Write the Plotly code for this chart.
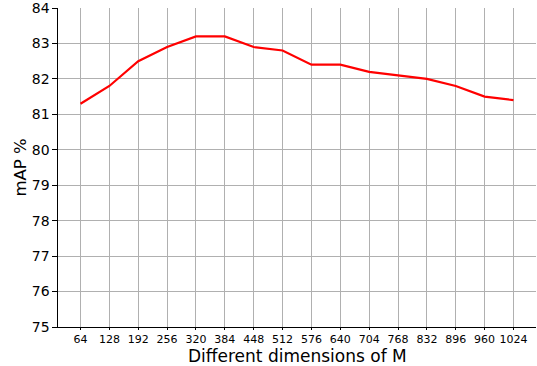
import plotly.graph_objects as go

dims = ["64", "128", "192", "256", "320", "384", "448", "512", "576", "640",
        "704", "768", "832", "896", "960", "1024"]
map_vals = [81.3, 81.8, 82.5, 82.9, 83.2, 83.2, 82.9, 82.8, 82.4, 82.4,
            82.2, 82.1, 82.0, 81.8, 81.5, 81.4]
y_ticks = [75, 76, 77, 78, 79, 80, 81, 82, 83, 84]
x_title = "Different dimensions of M"
y_title = "mAP %"

x_idx = list(range(len(dims)))

fig = go.Figure()
fig.add_trace(go.Scatter(x=x_idx, y=map_vals, mode="lines",
                         line=dict(color="#ff0000", width=2.2)))

font = "DejaVu Sans, sans-serif"
fig.update_layout(
    width=537, height=366,
    margin=dict(l=58, r=1, t=8, b=39, autoexpand=False),
    plot_bgcolor="white", paper_bgcolor="white",
    showlegend=False,
    font=dict(family=font, color="black"),
    xaxis=dict(
        range=[-0.78, 15.78], automargin=False,
        tickmode="array", tickvals=x_idx, ticktext=dims,
        tickfont=dict(size=11, family=font),
        showgrid=True, gridcolor="#b0b0b0", gridwidth=1,
        showline=True, linecolor="black", linewidth=1.2,
        ticks="outside", ticklen=2, tickcolor="black", tickwidth=1,
        zeroline=False, ticklabeloverflow="allow",
    ),
    yaxis=dict(
        range=[75, 84], automargin=False,
        tickmode="array", tickvals=y_ticks,
        tickfont=dict(size=14, family=font),
        showgrid=True, gridcolor="#b0b0b0", gridwidth=1,
        showline=True, linecolor="black", linewidth=1.2,
        ticks="outside", ticklen=4.5, tickcolor="black", tickwidth=1.2,
        zeroline=False, ticklabeloverflow="allow",
        title=dict(text=y_title, font=dict(size=16.5, family=font), standoff=0),
    ),
    annotations=[dict(
        text=x_title, xref="paper", yref="paper", x=0.5, y=0,
        xanchor="center", yanchor="middle", yshift=-29, showarrow=False,
        font=dict(size=17, family=font, color="black"),
    )],
)
fig.write_html("out.html", config={"displayModeBar": False},
               post_script="document.body.style.margin='0';document.body.style.overflow='hidden';")
